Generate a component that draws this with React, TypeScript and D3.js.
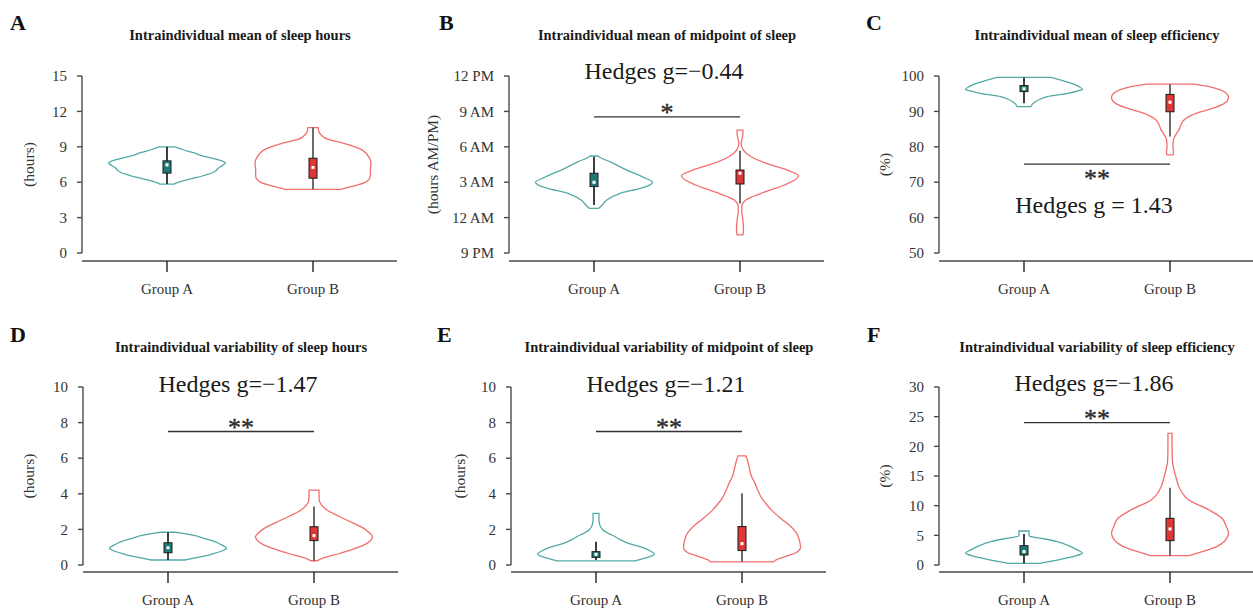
import React from "react";
import * as d3 from "d3";

// ---------- data ----------
const groups = ["Group A", "Group B"];
const panelLetters = ["A", "B", "C", "D", "E", "F"];
const panelTitles = [
  "Intraindividual mean of sleep hours",
  "Intraindividual mean of midpoint of sleep",
  "Intraindividual mean of sleep efficiency",
  "Intraindividual variability of sleep hours",
  "Intraindividual variability of midpoint of sleep",
  "Intraindividual variability of sleep efficiency",
];
const yLabels = ["(hours)", "(hours AM/PM)", "(%)", "(hours)", "(hours)", "(%)"];

const ticksA = [0, 3, 6, 9, 12, 15];
const ticksB = [-3, 0, 3, 6, 9, 12];
const tickLabelsB = ["9 PM", "12 AM", "3 AM", "6 AM", "9 AM", "12 PM"];
const ticksC = [50, 60, 70, 80, 90, 100];
const ticksD = [0, 2, 4, 6, 8, 10];
const ticksE = [0, 2, 4, 6, 8, 10];
const ticksF = [0, 5, 10, 15, 20, 25, 30];

// violin density profiles: [value, relative density]
const violinA_A = [[5.84,0.12],[6.0,0.2],[6.2,0.34],[6.4,0.51],[6.6,0.65],[6.8,0.78],[7.0,0.84],[7.2,0.88],[7.4,0.94],[7.65,1.0],[7.8,0.94],[8.0,0.8],[8.2,0.62],[8.5,0.45],[8.75,0.28],[9.0,0.14]];
const violinA_B = [[5.4,0.48],[5.5,0.55],[5.7,0.72],[6.0,0.9],[6.2,0.95],[6.5,0.98],[7.0,0.98],[7.6,0.99],[8.0,0.97],[8.7,0.85],[9.0,0.72],[9.3,0.53],[9.6,0.27],[10.0,0.14],[10.3,0.1],[10.63,0.09]];
const violinB_A = [[0.79,0.08],[1.07,0.14],[1.49,0.22],[2.06,0.45],[2.48,0.79],[2.75,0.95],[2.99,1.0],[3.42,0.84],[4.03,0.56],[4.74,0.27],[5.05,0.12],[5.22,0.07]];
const violinB_B = [[-1.47,0.05],[-1.05,0.06],[-0.2,0.05],[0.5,0.03],[0.92,0.03],[1.49,0.1],[2.06,0.36],[2.76,0.76],[3.53,1.0],[4.03,0.81],[4.46,0.53],[5.16,0.19],[5.7,0.06],[6.3,0.02],[6.8,0.04],[7.2,0.05],[7.42,0.05]];
const violinC_A = [[91.35,0.12],[92,0.14],[92.8,0.2],[93.5,0.28],[94.2,0.4],[95.1,0.75],[95.7,0.9],[96.2,1.0],[97,0.94],[98,0.8],[99,0.6],[99.6,0.46]];
const violinC_B = [[77.7,0.05],[78.5,0.06],[80,0.05],[82,0.06],[84,0.12],[85,0.16],[86,0.18],[87,0.21],[88,0.27],[89,0.38],[90,0.55],[91,0.75],[92,0.9],[93,0.98],[94,1.0],[95,0.97],[96,0.87],[97,0.67],[97.7,0.4]];
const violinD_A = [[0.28,0.29],[0.45,0.55],[0.66,0.8],[0.8,0.93],[0.94,1.0],[1.1,0.93],[1.31,0.8],[1.5,0.62],[1.69,0.4],[1.8,0.2],[1.84,0.13]];
const violinD_B = [[0.24,0.06],[0.32,0.1],[0.66,0.45],[0.9,0.68],[1.12,0.85],[1.35,0.96],[1.59,1.0],[1.8,0.95],[2.06,0.85],[2.53,0.56],[3.09,0.22],[3.4,0.12],[3.65,0.09],[4.0,0.085],[4.21,0.085]];
const violinE_A = [[0.23,0.67],[0.4,0.85],[0.6,1.0],[0.8,0.92],[1.0,0.78],[1.2,0.57],[1.4,0.43],[1.6,0.32],[1.8,0.2],[2.0,0.11],[2.3,0.06],[2.6,0.05],[2.9,0.05]];
const violinE_B = [[0.18,0.54],[0.3,0.59],[0.5,0.76],[0.7,0.93],[1.0,1.0],[1.4,0.98],[1.8,0.93],[2.2,0.82],[2.6,0.67],[3.0,0.53],[3.4,0.42],[3.8,0.33],[4.2,0.27],[4.6,0.22],[5.0,0.16],[5.4,0.13],[5.8,0.1],[6.13,0.07]];
const violinF_A = [[0.28,0.27],[0.6,0.45],[1.12,0.7],[1.6,0.9],[1.97,1.0],[2.5,0.92],[3.09,0.8],[3.93,0.57],[4.49,0.3],[4.89,0.09],[5.2,0.085],[5.73,0.085]];
const violinF_B = [[1.57,0.33],[2.25,0.55],[3.0,0.78],[3.66,0.89],[4.5,0.97],[5.34,1.0],[6.5,0.96],[7.87,0.89],[9.27,0.67],[10.96,0.32],[12.6,0.18],[14.9,0.1],[17.7,0.04],[20,0.035],[22.2,0.035]];

// box stats: [lower whisker, q1, median, q3, upper whisker]
const boxA_A = [5.84, 6.77, 7.47, 7.81, 9.0];
const boxA_B = [5.4, 6.34, 7.25, 8.03, 10.63];
const boxB_A = [1.07, 2.63, 2.99, 3.76, 5.16];
const boxB_B = [1.2, 2.85, 3.76, 4.03, 5.67];
const boxC_A = [92.3, 95.6, 96.4, 97.3, 99.6];
const boxC_B = [82.9, 89.9, 92.6, 94.8, 97.7];
const boxD_A = [0.28, 0.69, 0.97, 1.25, 1.84];
const boxD_B = [0.24, 1.37, 1.65, 2.15, 3.28];
const boxE_A = [0.28, 0.43, 0.6, 0.75, 1.3];
const boxE_B = [0.18, 0.81, 1.2, 2.16, 4.03];
const boxF_A = [0.28, 1.69, 2.25, 3.26, 5.22];
const boxF_B = [1.57, 4.1, 6.07, 7.87, 13.03];

// annotations
const hedgesTexts = ["", "Hedges g=\u22120.44", "Hedges g = 1.43", "Hedges g=\u22121.47", "Hedges g=\u22121.21", "Hedges g=\u22121.86"];
const hedgesValues = [0, 11.75, 61.3, 9.72, 9.72, 29.3];
const sigValues = [null, 8.53, 75.1, 7.5, 7.5, 24];
const sigStars = ["", "*", "**", "**", "**", "**"];
const sigBelow = [false, false, true, false, false, false];

// ---------- layout ----------
const W = 1253, H = 612;
const FONT = "'Liberation Serif', 'Times New Roman', serif";
const teal = "#52aaa6", tealFill = "#1f7b78";
const red = "#f26e6e", redFill = "#e03636";
const axisColor = "#4a4a4a";

const panels = [
  { axisX: 82, top: 76, bottom: 253, xAxisY: 261, domain: [0, 15], ticks: ticksA, labels: ticksA.map(String), violins: [violinA_A, violinA_B], boxes: [boxA_A, boxA_B], letterX: 10, ylabX: 29 },
  { axisX: 509, top: 76, bottom: 253, xAxisY: 261, domain: [-3, 12], ticks: ticksB, labels: tickLabelsB, violins: [violinB_A, violinB_B], boxes: [boxB_A, boxB_B], letterX: 439, ylabX: 433 },
  { axisX: 939, top: 76, bottom: 253, xAxisY: 261, domain: [50, 100], ticks: ticksC, labels: ticksC.map(String), violins: [violinC_A, violinC_B], boxes: [boxC_A, boxC_B], letterX: 866, ylabX: 885 },
  { axisX: 83, top: 387, bottom: 565, xAxisY: 572, domain: [0, 10], ticks: ticksD, labels: ticksD.map(String), violins: [violinD_A, violinD_B], boxes: [boxD_A, boxD_B], letterX: 10, ylabX: 29 },
  { axisX: 511, top: 387, bottom: 565, xAxisY: 572, domain: [0, 10], ticks: ticksE, labels: ticksE.map(String), violins: [violinE_A, violinE_B], boxes: [boxE_A, boxE_B], letterX: 437, ylabX: 460 },
  { axisX: 939, top: 387, bottom: 565, xAxisY: 572, domain: [0, 30], ticks: ticksF, labels: ticksF.map(String), violins: [violinF_A, violinF_B], boxes: [boxF_A, boxF_B], letterX: 867, ylabX: 885 },
];

const MAX_HW = 58.5;
const BOX_W = 8;

function Panel({ p, i }: { p: any; i: number }) {
  const y = d3.scaleLinear().domain(p.domain).range([p.bottom, p.top]);
  const x = d3.scalePoint<string>().domain(groups).range([p.axisX + 85, p.axisX + 231]);
  const mid = (x(groups[0])! + x(groups[1])!) / 2;
  const rowTop = p.top - 76;
  const cols = [teal, red];
  const fills = [tealFill, redFill];
  const whisk = ["#2a2a2a", "#5c5c5c"];
  const sig = sigValues[i];
  return (
    <g>
      <text x={p.letterX} y={rowTop + 30 + (i >= 3 ? 1 : 0)} fontFamily={FONT} fontWeight="bold" fontSize={22} fill="#111">{panelLetters[i]}</text>
      <text x={mid} y={rowTop + 40 + (i >= 3 ? 1 : 0)} textAnchor="middle" fontFamily={FONT} fontWeight="bold" fontSize={14.5} fill="#1a1a1a">{panelTitles[i]}</text>
      <line x1={p.axisX} x2={p.axisX} y1={y(p.domain[0])} y2={y(p.domain[1])} stroke={axisColor} strokeWidth={1.4} />
      {p.ticks.map((t: number, k: number) => (
        <g key={k}>
          <line x1={p.axisX - 5} x2={p.axisX} y1={y(t)} y2={y(t)} stroke={axisColor} strokeWidth={1.4} />
          <text x={p.axisX - 15} y={y(t)} dy="0.35em" textAnchor="end" fontFamily={FONT} fontSize={15} fill="#333">{p.labels[k]}</text>
        </g>
      ))}
      <text transform={`translate(${p.ylabX},${(p.top + p.bottom) / 2}) rotate(-90)`} textAnchor="middle" dy="0.35em" fontFamily={FONT} fontSize={15.5} fill="#333">{yLabels[i]}</text>
      <line x1={p.axisX} x2={p.axisX + 315} y1={p.xAxisY} y2={p.xAxisY} stroke={axisColor} strokeWidth={1.4} />
      {groups.map((g) => (
        <g key={g}>
          <line x1={x(g)} x2={x(g)} y1={p.xAxisY} y2={p.xAxisY + 11} stroke="#222" strokeWidth={1.4} />
          <text x={x(g)} y={p.xAxisY + 33} textAnchor="middle" fontFamily={FONT} fontSize={15} fill="#333">{g}</text>
        </g>
      ))}
      {groups.map((g, gi) => {
        const cx = x(g)!;
        const area = d3.area<number[]>()
          .y((d) => y(d[0]))
          .x0((d) => cx - d[1] * MAX_HW)
          .x1((d) => cx + d[1] * MAX_HW)
          .curve(d3.curveMonotoneY);
        const b = p.boxes[gi];
        return (
          <g key={g}>
            <path d={area(p.violins[gi]) || ""} fill="none" stroke={cols[gi]} strokeWidth={1.3} />
            <line x1={cx} x2={cx} y1={y(b[0])} y2={y(b[4])} stroke={whisk[gi]} strokeWidth={1.8} />
            <rect x={cx - BOX_W / 2} width={BOX_W} y={y(b[3])} height={y(b[1]) - y(b[3])} fill={fills[gi]} stroke="#1a1a1a" strokeWidth={1} />
            <rect x={cx - 1.5} y={y(b[2]) - 1.5} width={3} height={3} fill="#fff" />
          </g>
        );
      })}
      {sig !== null && (
        <g>
          <line x1={x(groups[0])} x2={x(groups[1])} y1={y(sig)} y2={y(sig)} stroke="#333" strokeWidth={1.3} />
          <text x={mid} y={y(sig) + (sigBelow[i] ? 23 : 4)} textAnchor="middle" fontFamily={FONT} fontSize={26} fill="#2a2a2a" stroke="#2a2a2a" strokeWidth={0.4}>{sigStars[i]}</text>
        </g>
      )}
      {hedgesTexts[i] && (
        <text x={mid - 3} y={y(hedgesValues[i])} textAnchor="middle" fontFamily={FONT} fontSize={24} fill="#1a1a1a">{hedgesTexts[i]}</text>
      )}
    </g>
  );
}

export default function App() {
  return (
    <svg width={W} height={H} style={{ position: "absolute", left: 0, top: 0, background: "#fff" }}>
      <rect width={W} height={H} fill="#fff" />
      {panels.map((p, i) => (
        <Panel key={i} p={p} i={i} />
      ))}
    </svg>
  );
}
